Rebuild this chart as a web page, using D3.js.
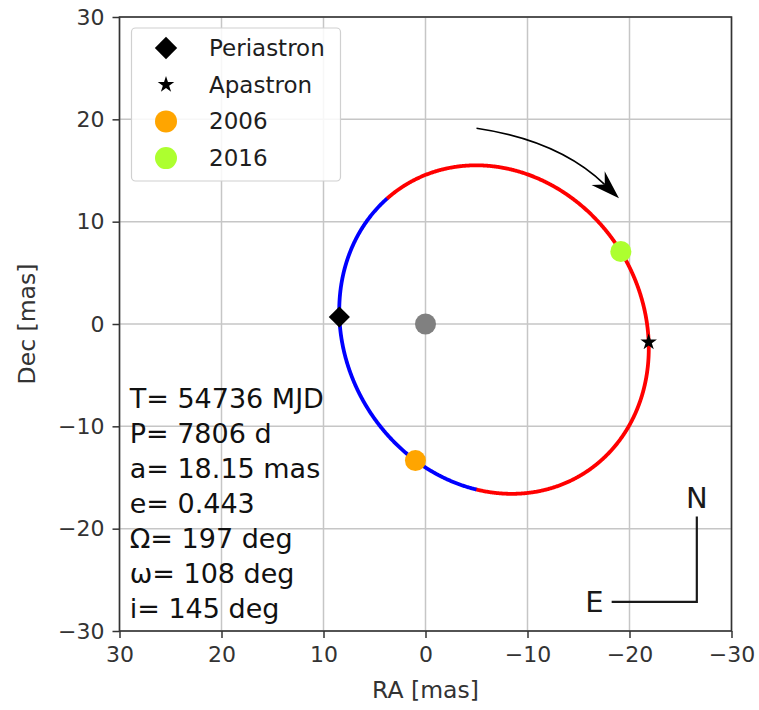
<!DOCTYPE html>
<html>
<head>
<meta charset="utf-8">
<script src="https://cdn.jsdelivr.net/npm/d3@7"></script>
<style>
  body { margin: 0; background: #fff; }
  svg { display: block; font-family: "DejaVu Sans", sans-serif; }
</style>
</head>
<body>
<svg id="chart" width="759" height="710"></svg>
<script>
// Orbital solution (Campbell elements)
const elementSymbols = ["T", "P", "a", "e", "Ω", "ω", "i"];
const elementValues  = [54736, 7806, 18.15, 0.443, 197, 108, 145];
const elementUnits   = ["MJD", "d", "mas", "", "deg", "deg", "deg"];

// Epochs marked on the orbit (MJD)
const epochLabels = ["2006", "2016"];
const epochMJD    = [53957, 57631];
const epochColors = ["#ffa500", "#adff2f"];

// Axis ticks (mas)
const tickValues = [30, 20, 10, 0, -10, -20, -30];
const raDomain  = [30, -30];
const decDomain = [30, -30];

// ---------------------------------------------------------------
const [T0, P, a, e, OmegaDeg, omegaDeg, incDeg] = elementValues;
const rad = Math.PI / 180;
const Om = OmegaDeg * rad, om = omegaDeg * rad, inc = incDeg * rad;

// Thiele-Innes constants (unit semi-major axis)
const A = Math.cos(om) * Math.cos(Om) - Math.sin(om) * Math.sin(Om) * Math.cos(inc);
const B = Math.cos(om) * Math.sin(Om) + Math.sin(om) * Math.cos(Om) * Math.cos(inc);
const F = -Math.sin(om) * Math.cos(Om) - Math.cos(om) * Math.sin(Om) * Math.cos(inc);
const G = -Math.sin(om) * Math.sin(Om) + Math.cos(om) * Math.cos(Om) * Math.cos(inc);

function skyFromE(E) {
  const X = a * (Math.cos(E) - e);
  const Y = a * Math.sqrt(1 - e * e) * Math.sin(E);
  return { ra: B * X + G * Y, dec: A * X + F * Y };
}
function trueAnomaly(E) {
  return 2 * Math.atan2(Math.sqrt(1 + e) * Math.sin(E / 2), Math.sqrt(1 - e) * Math.cos(E / 2));
}
function eccentricAnomaly(mjd) {
  let M = 2 * Math.PI * (mjd - T0) / P;
  M = Math.atan2(Math.sin(M), Math.cos(M));
  let E = M;
  for (let k = 0; k < 50; k++) E -= (E - e * Math.sin(E) - M) / (1 - e * Math.cos(E));
  return E;
}

// ---------------------------------------------------------------
const svg = d3.select("#chart");
const plotLeft = 119.5, plotTop = 17, plotW = 612, plotH = 614;
const x = d3.scaleLinear().domain(raDomain).range([plotLeft, plotLeft + plotW]);
const y = d3.scaleLinear().domain(decDomain).range([plotTop, plotTop + plotH]);

svg.append("defs").append("clipPath").attr("id", "plotclip")
  .append("rect").attr("x", plotLeft).attr("y", plotTop).attr("width", plotW).attr("height", plotH);

// grid
const grid = svg.append("g").attr("stroke", "#c6c6c6").attr("stroke-width", 1.5);
grid.selectAll("line.v").data(tickValues).join("line").attr("class", "v")
  .attr("x1", d => x(d)).attr("x2", d => x(d)).attr("y1", plotTop).attr("y2", plotTop + plotH);
grid.selectAll("line.h").data(tickValues).join("line").attr("class", "h")
  .attr("y1", d => y(d)).attr("y2", d => y(d)).attr("x1", plotLeft).attr("x2", plotLeft + plotW);

// axes
const fmt = d3.format("d");
const xAxis = svg.append("g").attr("transform", `translate(0,${plotTop + plotH})`)
  .call(d3.axisBottom(x).tickValues(tickValues).tickFormat(fmt).tickSize(7).tickPadding(8));
const yAxis = svg.append("g").attr("transform", `translate(${plotLeft},0)`)
  .call(d3.axisLeft(y).tickValues(tickValues).tickFormat(fmt).tickSize(7).tickPadding(8));
[xAxis, yAxis].forEach(g => {
  g.select(".domain").remove();
  g.selectAll(".tick line").attr("stroke", "#333").attr("stroke-width", 1.5);
  g.selectAll(".tick text").attr("fill", "#333").attr("font-size", 22)
    .attr("font-family", "DejaVu Sans, sans-serif");
});

svg.append("text").attr("x", x(0)).attr("y", 698).attr("text-anchor", "middle")
  .attr("font-size", 23.5).attr("fill", "#333").text("RA [mas]");
svg.append("text").attr("transform", `translate(35,${y(0)}) rotate(-90)`)
  .attr("text-anchor", "middle").attr("font-size", 23.5).attr("fill", "#333").text("Dec [mas]");

// orbit, split at the line of nodes
const plot = svg.append("g").attr("clip-path", "url(#plotclip)");
const N = 1440;
const samples = d3.range(N + 1).map(k => {
  const E = -Math.PI + 2 * Math.PI * k / N;
  const p = skyFromE(E);
  p.front = Math.sin(trueAnomaly(E) + om) > 0;
  return p;
});
const segments = [];
let cur = null;
samples.forEach(p => {
  if (!cur || cur.front !== p.front) {
    const prev = cur ? cur.pts[cur.pts.length - 1] : null;
    if (cur) cur.pts.push(p);
    cur = { front: p.front, pts: prev ? [prev, p] : [p] };
    segments.push(cur);
  } else cur.pts.push(p);
});
const line = d3.line().x(d => x(d.ra)).y(d => y(d.dec));
plot.selectAll("path.orbit").data(segments).join("path").attr("class", "orbit")
  .attr("d", s => line(s.pts))
  .attr("fill", "none")
  .attr("stroke", s => s.front ? "#0000ff" : "#ff0000")
  .attr("stroke-width", 3.8).attr("stroke-linecap", "butt");

// central star
plot.append("circle").attr("cx", x(0)).attr("cy", y(0)).attr("r", 10.5).attr("fill", "#808080");

// periastron / apastron
const peri = skyFromE(0), apo = skyFromE(Math.PI);
const diamond = d3.symbol().type(d3.symbolSquare).size(225);
const star = d3.symbol().type(d3.symbolStar).size(85);
plot.append("path").attr("d", diamond())
  .attr("transform", `translate(${x(peri.ra)},${y(peri.dec)}) rotate(45)`).attr("fill", "#000");
plot.append("path").attr("d", star())
  .attr("transform", `translate(${x(apo.ra)},${y(apo.dec)})`).attr("fill", "#000");

// epochs
epochMJD.forEach((mjd, k) => {
  const p = skyFromE(eccentricAnomaly(mjd));
  plot.append("circle").attr("cx", x(p.ra)).attr("cy", y(p.dec)).attr("r", 10.5)
    .attr("fill", epochColors[k]);
});

// direction of motion
const arrowFrom = [-5.0, 19.13], arrowTo = [-18.97, 12.29];
const p0 = [x(arrowFrom[0]), y(arrowFrom[1])], p2 = [x(arrowTo[0]), y(arrowTo[1])];
const ddx = p2[0] - p0[0], ddy = p2[1] - p0[1], bend = 0.16;
const c = [(p0[0] + p2[0]) / 2 + bend * ddy, (p0[1] + p2[1]) / 2 - bend * ddx];
const ang = Math.atan2(p2[1] - c[1], p2[0] - c[0]);
const headL = 29, headW = 19, notch = 0.68;
const ux = Math.cos(ang), uy = Math.sin(ang);
const back = [p2[0] - ux * headL * notch, p2[1] - uy * headL * notch];
const arc = d3.path();
arc.moveTo(p0[0], p0[1]);
arc.quadraticCurveTo(c[0], c[1], back[0], back[1]);
plot.append("path").attr("d", arc.toString()).attr("fill", "none")
  .attr("stroke", "#000").attr("stroke-width", 1.6);
const wing = s => [p2[0] - ux * headL + s * (-uy) * headW / 2, p2[1] - uy * headL + s * ux * headW / 2];
const w1 = wing(1), w2 = wing(-1);
plot.append("path")
  .attr("d", `M${p2}L${w1}L${back}L${w2}Z`)
  .attr("fill", "#000");

// compass
const corner = [-26.6, -27.15], armLen = 8.35;
const comp = plot.append("g").attr("stroke", "#1a1a1a").attr("stroke-width", 2.2).attr("fill", "none");
comp.append("path").attr("d", `M${x(corner[0] + armLen)},${y(corner[1])}H${x(corner[0])}V${y(corner[1] + armLen)}`);
plot.append("text").attr("x", x(corner[0])).attr("y", y(corner[1] + armLen + 1.8))
  .attr("text-anchor", "middle").attr("dominant-baseline", "central")
  .attr("font-size", 29).attr("fill", "#1a1a1a").text("N");
plot.append("text").attr("x", x(corner[0] + armLen + 1.7)).attr("y", y(corner[1]))
  .attr("text-anchor", "middle").attr("dominant-baseline", "central")
  .attr("font-size", 29).attr("fill", "#1a1a1a").text("E");

// orbital elements
const info = plot.append("text").attr("font-size", 27).attr("fill", "#111");
elementSymbols.forEach((s, k) => {
  info.append("tspan").attr("x", x(29)).attr("y", y(-8.24) + k * 35)
    .text(`${s}= ${elementValues[k]}${elementUnits[k] ? " " + elementUnits[k] : ""}`);
});

// legend
const lg = svg.append("g");
lg.append("rect").attr("x", 131.5).attr("y", 28).attr("width", 209).attr("height", 153).attr("rx", 4)
  .attr("fill", "#fff").attr("fill-opacity", 0.85).attr("stroke", "#d0d0d0").attr("stroke-width", 1.2);
const legendItems = [
  { label: "Periastron", kind: "diamond" },
  { label: "Apastron", kind: "star" },
  { label: epochLabels[0], kind: "dot", color: epochColors[0] },
  { label: epochLabels[1], kind: "dot", color: epochColors[1] }
];
const rowY = k => 48 + k * 36.7;
legendItems.forEach((it, k) => {
  const cy = rowY(k);
  if (it.kind === "diamond")
    lg.append("path").attr("d", d3.symbol().type(d3.symbolSquare).size(250)())
      .attr("transform", `translate(166,${cy}) rotate(45)`).attr("fill", "#000");
  else if (it.kind === "star")
    lg.append("path").attr("d", star()).attr("transform", `translate(166,${cy})`).attr("fill", "#000");
  else
    lg.append("circle").attr("cx", 166).attr("cy", cy).attr("r", 11).attr("fill", it.color);
  lg.append("text").attr("x", 209).attr("y", cy).attr("dominant-baseline", "central")
    .attr("font-size", 23).attr("fill", "#1e1e1e").text(it.label);
});

// frame
svg.append("rect").attr("x", plotLeft).attr("y", plotTop).attr("width", plotW).attr("height", plotH)
  .attr("fill", "none").attr("stroke", "#333").attr("stroke-width", 1.6);
</script>
</body>
</html>
